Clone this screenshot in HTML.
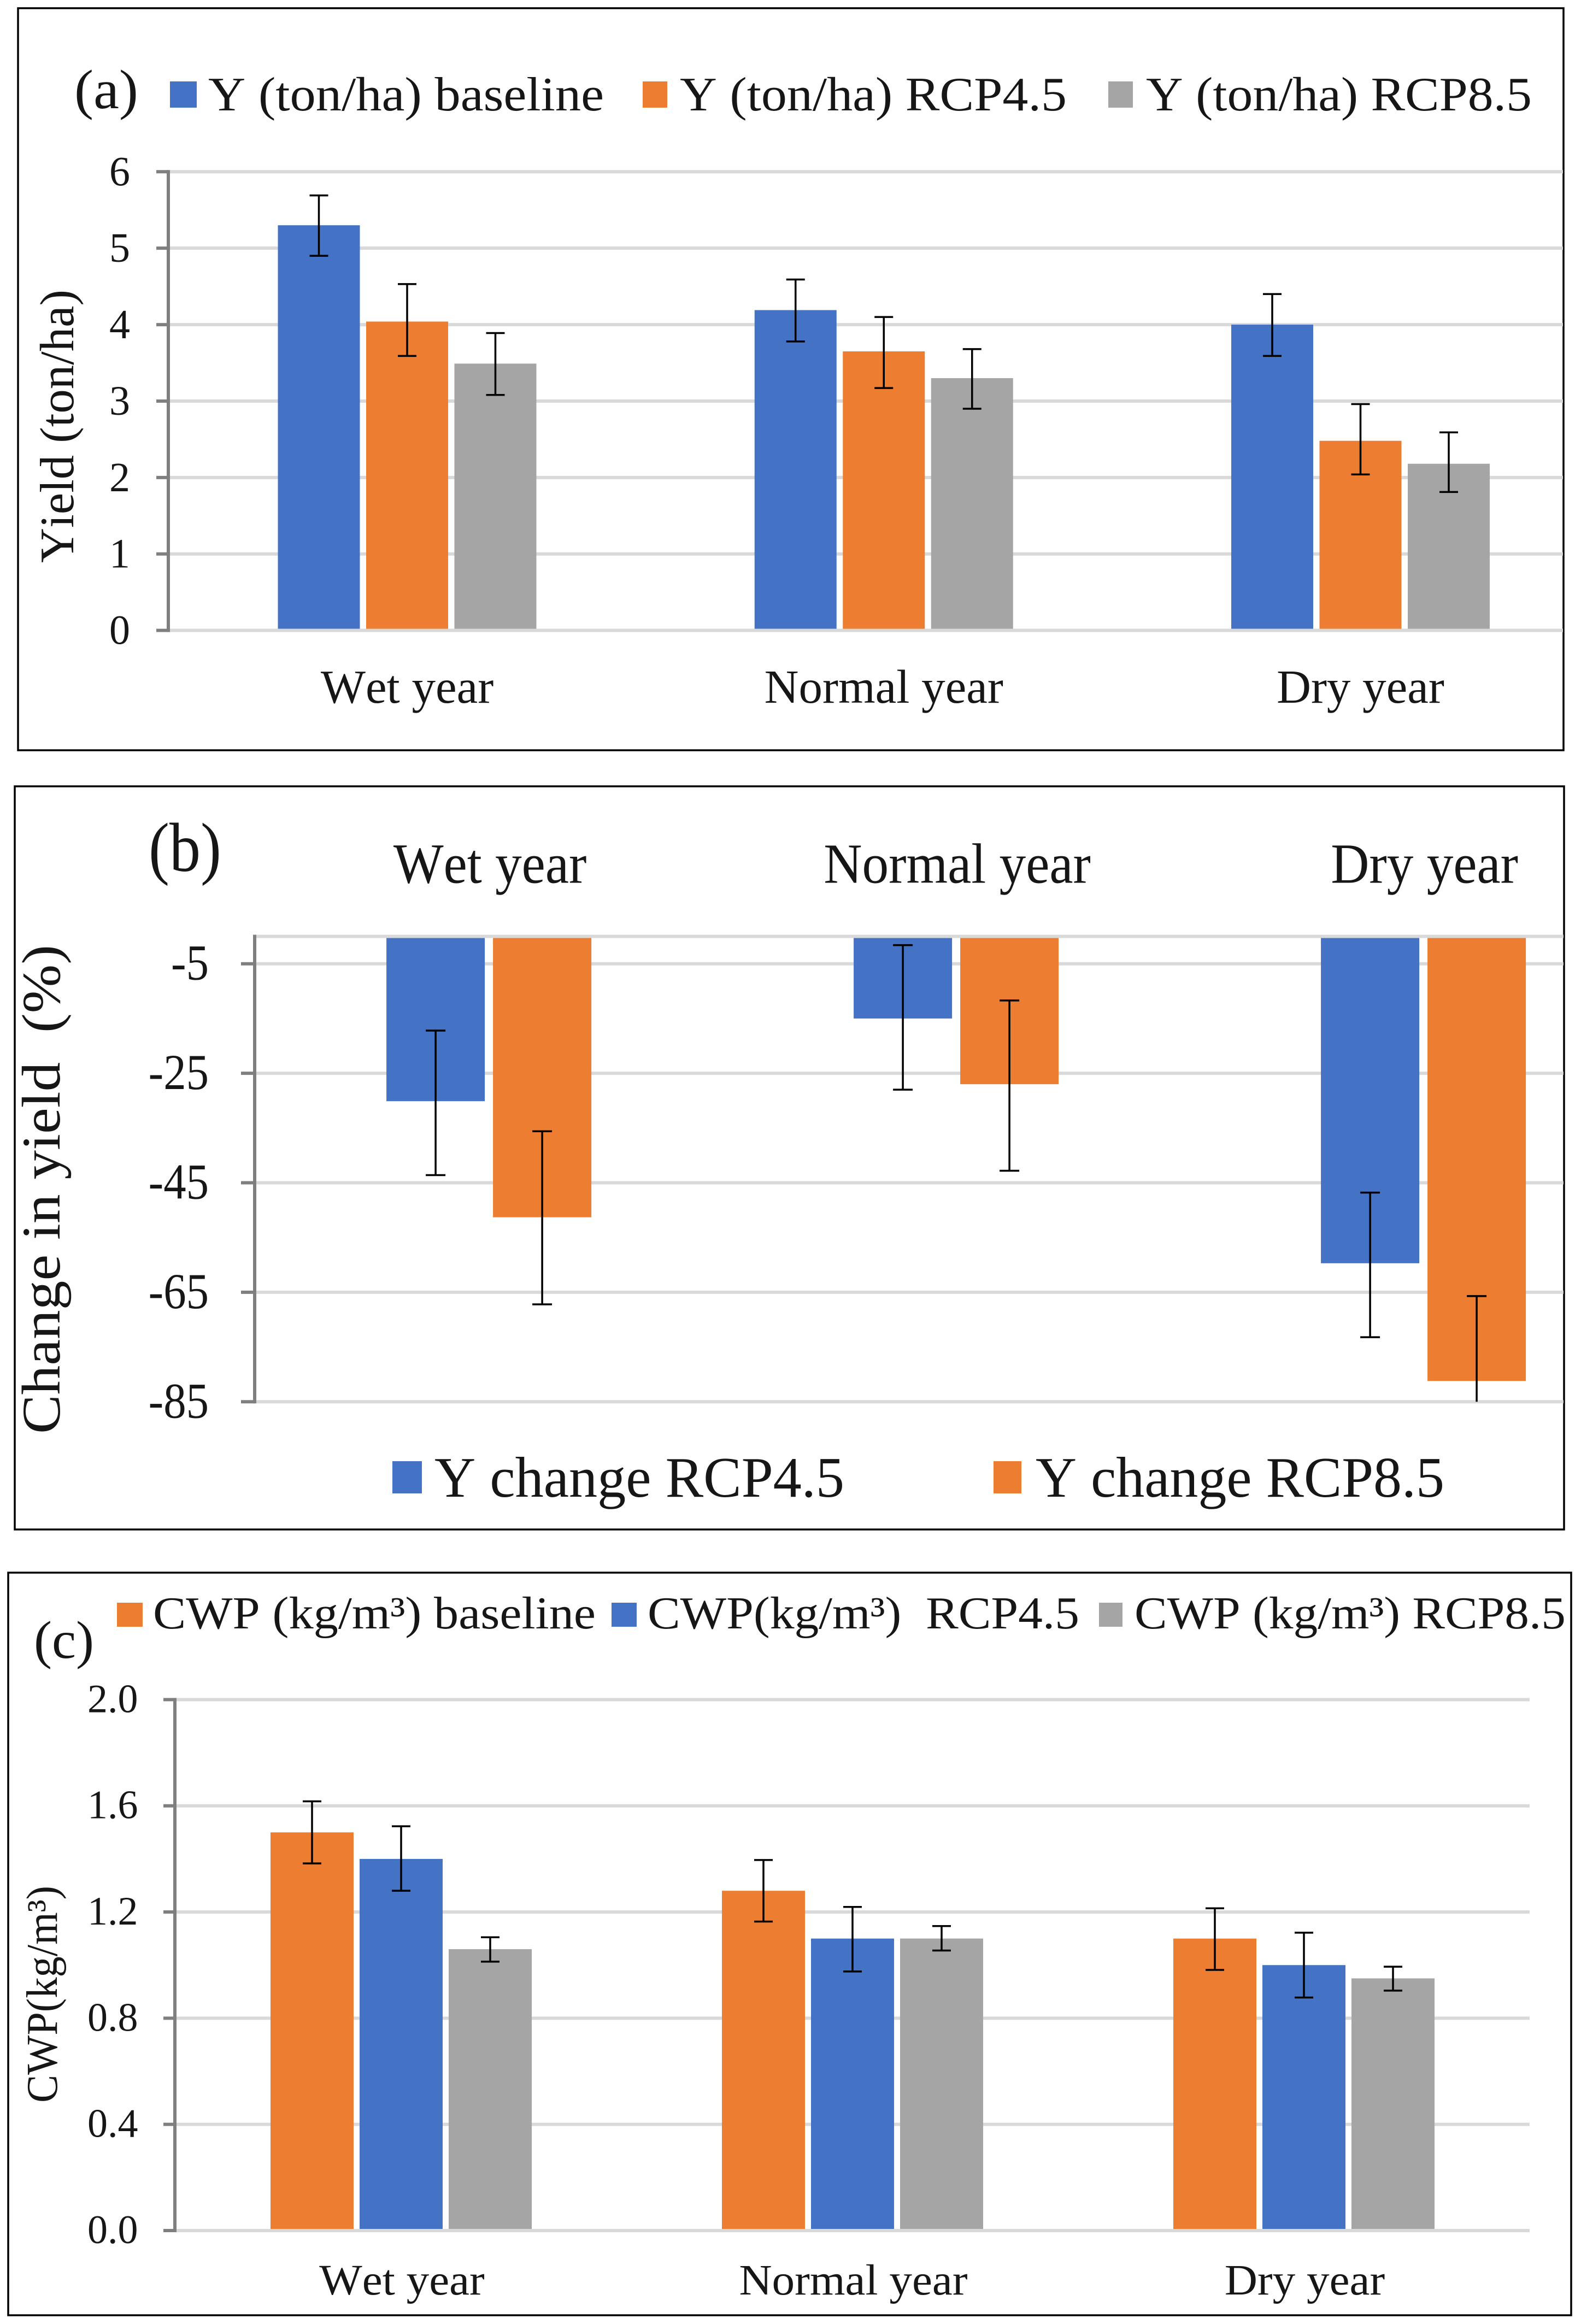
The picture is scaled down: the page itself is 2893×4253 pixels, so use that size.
<!DOCTYPE html>
<html lang="en">
<head>
<meta charset="utf-8">
<title>Yield, yield change and crop water productivity under climate scenarios</title>
<style>
  html, body { margin: 0; padding: 0; background: #fff; }
  svg { display: block; }
  text { font-family: "Liberation Serif", "Times New Roman", serif; fill: #161616; white-space: pre; font-kerning: none; }
</style>
</head>
<body>
<svg id="figure" xmlns="http://www.w3.org/2000/svg" width="2893" height="4253" viewBox="0 0 2893 4253">
  <rect x="0" y="0" width="2893" height="4253" fill="#ffffff"/>

  <g id="panel-a">
    <rect x="33" y="15" width="2828" height="1358" fill="#fff" stroke="#000" stroke-width="3.5"/>
    <g id="plot-a"></g>
    <text x="136" y="198" font-size="102" textLength="117" lengthAdjust="spacingAndGlyphs">(a)</text>
    <g>
      <rect x="311" y="149" width="49" height="48" fill="#4472C4"/>
      <text x="381" y="202" font-size="88" textLength="724" lengthAdjust="spacingAndGlyphs">Y (ton/ha) baseline</text>
      <rect x="1176" y="149" width="45" height="48" fill="#ED7D31"/>
      <text x="1244" y="202" font-size="88" textLength="708" lengthAdjust="spacingAndGlyphs">Y (ton/ha) RCP4.5</text>
      <rect x="2028" y="149" width="45" height="48" fill="#A5A5A5"/>
      <text x="2097" y="202" font-size="88" textLength="706" lengthAdjust="spacingAndGlyphs">Y (ton/ha) RCP8.5</text>
    </g>
    <text transform="translate(134,1030) rotate(-90)" font-size="88" textLength="500" lengthAdjust="spacingAndGlyphs">Yield (ton/ha)</text>
  </g>

  <g id="panel-b">
    <rect x="27" y="1439" width="2835" height="1360" fill="#fff" stroke="#000" stroke-width="3.5"/>
    <g id="plot-b"></g>
    <text x="272" y="1594" font-size="127" textLength="133" lengthAdjust="spacingAndGlyphs">(b)</text>
    <g>
      <rect x="718" y="2674" width="54" height="59" fill="#4472C4"/>
      <text x="795" y="2739" font-size="105" textLength="750" lengthAdjust="spacingAndGlyphs">Y change RCP4.5</text>
      <rect x="1818" y="2674" width="51" height="59" fill="#ED7D31"/>
      <text x="1895" y="2739" font-size="105" textLength="748" lengthAdjust="spacingAndGlyphs">Y change RCP8.5</text>
    </g>
    <text transform="translate(109,2624) rotate(-90)" font-size="100" textLength="895" lengthAdjust="spacingAndGlyphs">Change in yield  (%)</text>
  </g>

  <g id="panel-c">
    <rect x="15" y="2878" width="2860" height="1359" fill="#fff" stroke="#000" stroke-width="3.5"/>
    <g id="plot-c"></g>
    <text x="62" y="3034" font-size="97" textLength="110" lengthAdjust="spacingAndGlyphs">(c)</text>
    <g>
      <rect x="214" y="2933" width="47" height="44" fill="#ED7D31"/>
      <text x="280" y="2980" font-size="84" textLength="810" lengthAdjust="spacingAndGlyphs">CWP (kg/m³) baseline</text>
      <rect x="1119" y="2933" width="46" height="44" fill="#4472C4"/>
      <text x="1185" y="2980" font-size="84" textLength="790" lengthAdjust="spacingAndGlyphs">CWP(kg/m³)  RCP4.5</text>
      <rect x="2011" y="2933" width="43" height="44" fill="#A5A5A5"/>
      <text x="2076" y="2980" font-size="84" textLength="789" lengthAdjust="spacingAndGlyphs">CWP (kg/m³) RCP8.5</text>
    </g>
    <text transform="translate(104,3848) rotate(-90)" font-size="80" textLength="397" lengthAdjust="spacingAndGlyphs">CWP(kg/m³)</text>
  </g>
</svg>

<script>
// Shared categories
const categories = ['Wet year', 'Normal year', 'Dry year'];

// Panel (a): yield, ton/ha
const yieldTicks = [0, 1, 2, 3, 4, 5, 6];
const yieldBaseline = [5.30, 4.19, 4.00];
const yieldRcp45 = [4.04, 3.65, 2.48];
const yieldRcp85 = [3.49, 3.30, 2.18];
const yieldBaselineHigh = [5.69, 4.59, 4.40];
const yieldBaselineLow = [4.90, 3.78, 3.59];
const yieldRcp45High = [4.53, 4.10, 2.96];
const yieldRcp45Low = [3.59, 3.17, 2.04];
const yieldRcp85High = [3.89, 3.68, 2.59];
const yieldRcp85Low = [3.08, 2.90, 1.81];

// Panel (b): change in yield, %
const changeTicks = [-5, -25, -45, -65, -85];
const changeRcp45 = [-30.1, -15.0, -59.7];
const changeRcp85 = [-51.3, -27.0, -81.2];
const changeRcp45High = [-17.2, -1.6, -46.8];
const changeRcp45Low = [-43.6, -28.0, -73.2];
const changeRcp85High = [-35.6, -11.7, -65.7];
const changeRcp85Low = [-67.2, -42.8, -96.7];

// Panel (c): crop water productivity, kg/m3
const cwpTicks = [0, 0.4, 0.8, 1.2, 1.6, 2.0];
const cwpTickLabels = ['0.0', '0.4', '0.8', '1.2', '1.6', '2.0'];
const cwpBaseline = [1.50, 1.28, 1.10];
const cwpRcp45 = [1.40, 1.10, 1.00];
const cwpRcp85 = [1.06, 1.10, 0.95];
const cwpBaselineHigh = [1.617, 1.396, 1.214];
const cwpBaselineLow = [1.383, 1.164, 0.982];
const cwpRcp45High = [1.523, 1.219, 1.122];
const cwpRcp45Low = [1.280, 0.976, 0.878];
const cwpRcp85High = [1.105, 1.147, 0.994];
const cwpRcp85Low = [1.013, 1.055, 0.904];

const NS = 'http://www.w3.org/2000/svg';
const BLUE = '#4472C4', ORANGE = '#ED7D31', GRAY = '#A5A5A5';
const GRID = '#D9D9D9', AXIS = '#7F7F7F';

function node(parent, tag, attrs, content) {
  const el = document.createElementNS(NS, tag);
  for (const k in attrs) el.setAttribute(k, attrs[k]);
  if (content !== undefined) el.textContent = content;
  parent.appendChild(el);
  return el;
}

function drawChart(cfg) {
  const root = document.getElementById(cfg.rootId);
  const yOf = v => cfg.yTop + (cfg.domainTop - v) / (cfg.domainTop - cfg.domainBottom) * (cfg.yBottom - cfg.yTop);
  const groupX = i => cfg.groupStart + i * cfg.groupStep;
  const barCenter = (i, s) => groupX(i) + (s - (cfg.series.length - 1) / 2) * cfg.slot;
  const baselineY = yOf(cfg.baseValue);

  // gridlines and tick marks
  cfg.ticks.forEach((t, i) => {
    const y = yOf(t);
    const grid = node(root, 'line', { x1: cfg.axisX, x2: cfg.gridEnd, y1: y, y2: y, stroke: GRID, 'stroke-width': cfg.gridWidth });
    
    
    const mark = node(root, 'line', { x1: cfg.tickStart, x2: cfg.axisX, y1: y, y2: y, stroke: AXIS, 'stroke-width': 6 });
    
    
    const label = node(root, 'text', {
      transform: 'translate(' + cfg.tickRight + ',' + (y + cfg.tickBaseline) + ') scale(' + cfg.tickStretch + ',1)',
      'text-anchor': 'end', 'font-size': cfg.tickFont
    }, cfg.tickLabels[i]);
    
    
  });

  // bars
  cfg.series.forEach((s, si) => {
    s.values.forEach((v, ci) => {
      const cx = barCenter(ci, si);
      const yv = yOf(v);
      const bar = node(root, 'rect', {
        x: cx - cfg.barWidth / 2, width: cfg.barWidth,
        y: Math.min(yv, baselineY), height: Math.abs(baselineY - yv), fill: s.color
      });
      
      
    });
  });

  // zero line drawn over the bars, then the vertical axis
  const zero = node(root, 'line', { x1: cfg.axisX, x2: cfg.gridEnd, y1: baselineY, y2: baselineY, stroke: GRID, 'stroke-width': cfg.gridWidth });
  
  
  const axis = node(root, 'line', { x1: cfg.axisX, x2: cfg.axisX, y1: Math.min(yOf(cfg.domainTop), baselineY) - 3, y2: yOf(cfg.domainBottom) + 3, stroke: AXIS, 'stroke-width': 6 });
  
  

  // error bars
  cfg.series.forEach((s, si) => {
    s.high.forEach((h, ci) => {
      const cx = barCenter(ci, si);
      const clipped = s.low[ci] < cfg.domainBottom;
      const yHigh = yOf(h);
      const yLow = yOf(Math.max(s.low[ci], cfg.domainBottom));
      const g = node(root, 'g', { stroke: '#000', 'stroke-width': 3.5 });
      
      
      node(g, 'line', { x1: cx, x2: cx, y1: yHigh, y2: yLow });
      node(g, 'line', { x1: cx - cfg.cap, x2: cx + cfg.cap, y1: yHigh, y2: yHigh });
      if (!clipped) node(g, 'line', { x1: cx - cfg.cap, x2: cx + cfg.cap, y1: yLow, y2: yLow });
    });
  });

  // category labels
  categories.forEach((c, i) => {
    const t = node(root, 'text', {
      transform: 'translate(' + (groupX(i) + cfg.catShift) + ',' + cfg.catBaseline + ') scale(' + cfg.catStretch + ',1)',
      'text-anchor': 'middle', 'font-size': cfg.catFont
    }, c);
    
    
  });
}

drawChart({
  rootId: 'plot-a',
  ticks: yieldTicks, tickLabels: yieldTicks.map(String),
  domainTop: 6, domainBottom: 0, baseValue: 0,
  yTop: 314.3, yBottom: 1153.6, axisX: 308, tickStart: 286, gridEnd: 2860, gridWidth: 6,
  tickRight: 238, tickBaseline: 25, tickFont: 76, tickStretch: 1,
  groupStart: 745, groupStep: 872.25, slot: 161.5, barWidth: 150, cap: 17,
  catShift: 0, catBaseline: 1286, catFont: 87, catStretch: 1,
  series: [
    { key: 'baseline', color: BLUE, values: yieldBaseline, high: yieldBaselineHigh, low: yieldBaselineLow },
    { key: 'rcp45', color: ORANGE, values: yieldRcp45, high: yieldRcp45High, low: yieldRcp45Low },
    { key: 'rcp85', color: GRAY, values: yieldRcp85, high: yieldRcp85High, low: yieldRcp85Low }
  ]
});

drawChart({
  rootId: 'plot-b',
  ticks: changeTicks, tickLabels: changeTicks.map(String),
  domainTop: 0, domainBottom: -85, baseValue: 0,
  yTop: 1713.6, yBottom: 2565.3, axisX: 466, tickStart: 441, gridEnd: 2861, gridWidth: 6,
  tickRight: 382, tickBaseline: 29, tickFont: 92, tickStretch: 0.9,
  groupStart: 894.6, groupStep: 855, slot: 195, barWidth: 180, cap: 18,
  catShift: 2, catBaseline: 1615.5, catFont: 104, catStretch: 0.935,
  series: [
    { key: 'change-rcp45', color: BLUE, values: changeRcp45, high: changeRcp45High, low: changeRcp45Low },
    { key: 'change-rcp85', color: ORANGE, values: changeRcp85, high: changeRcp85High, low: changeRcp85Low }
  ]
});

drawChart({
  rootId: 'plot-c',
  ticks: cwpTicks, tickLabels: cwpTickLabels,
  domainTop: 2, domainBottom: 0, baseValue: 0,
  yTop: 3110.4, yBottom: 4082, axisX: 320, tickStart: 299, gridEnd: 2799, gridWidth: 6,
  tickRight: 252.5, tickBaseline: 23, tickFont: 74, tickStretch: 1,
  groupStart: 734, groupStep: 826, slot: 163, barWidth: 152, cap: 17,
  catShift: 1.5, catBaseline: 4199, catFont: 80, catStretch: 1.04,
  series: [
    { key: 'cwp-baseline', color: ORANGE, values: cwpBaseline, high: cwpBaselineHigh, low: cwpBaselineLow },
    { key: 'cwp-rcp45', color: BLUE, values: cwpRcp45, high: cwpRcp45High, low: cwpRcp45Low },
    { key: 'cwp-rcp85', color: GRAY, values: cwpRcp85, high: cwpRcp85High, low: cwpRcp85Low }
  ]
});
</script>
</body>
</html>
